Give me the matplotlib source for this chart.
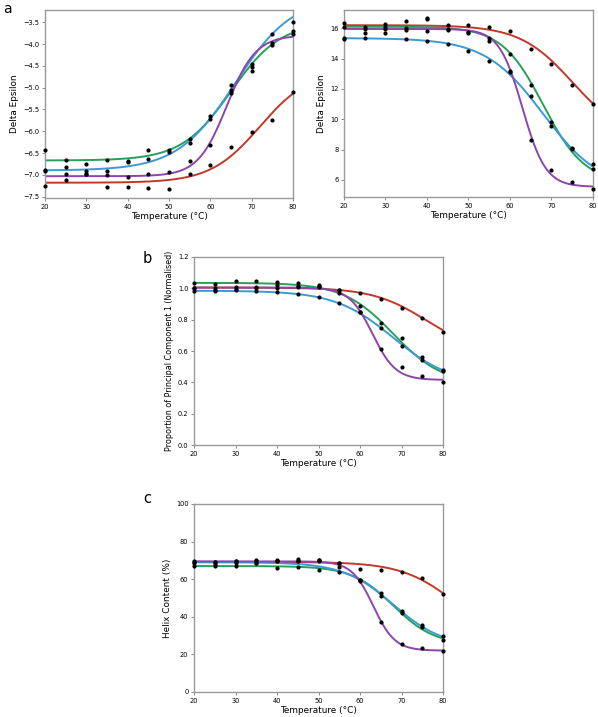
import numpy as np
import matplotlib
matplotlib.use("Agg")
from matplotlib import pyplot as plt

temps = [20, 25, 30, 35, 40, 45, 50, 55, 60, 65, 70, 75, 80]
series = ["red", "green", "blue", "purple"]
colors = {"red": "#c0392b", "green": "#27a05a", "blue": "#3a9ad8", "purple": "#8e44ad"}

a1_pts = {
    "red":    [-7.25, -7.12, -6.99, -7.27, -7.27, -7.29, -7.32, -6.97, -6.77, -6.37, -6.02, -5.74, -5.11],
    "green":  [-6.43, -6.67, -6.74, -6.66, -6.68, -6.43, -6.44, -6.28, -5.72, -5.05, -4.52, -3.98, -3.69],
    "blue":   [-6.88, -6.83, -6.90, -6.90, -6.70, -6.64, -6.47, -6.18, -5.66, -4.95, -4.46, -3.78, -3.50],
    "purple": [-6.92, -6.97, -6.98, -7.01, -7.05, -6.99, -6.94, -6.68, -6.32, -5.13, -4.61, -4.02, -3.78],
}
a2_pts = {
    "red":    [16.33, 16.11, 16.26, 16.50, 16.66, 16.22, 16.22, 16.07, 15.80, 14.64, 13.65, 12.26, 10.99],
    "green":  [16.11, 15.96, 16.11, 16.00, 16.59, 15.93, 15.78, 15.19, 14.29, 12.29, 9.85, 8.04, 6.70],
    "blue":   [15.30, 15.34, 15.69, 15.30, 15.16, 14.99, 14.51, 13.85, 13.10, 11.54, 9.56, 8.11, 7.08],
    "purple": [15.38, 15.69, 15.98, 15.89, 15.80, 15.89, 15.71, 15.34, 13.19, 8.66, 6.68, 5.85, 5.41],
}
b_pts = {
    "red":    [1.000, 1.000, 1.006, 1.009, 1.002, 1.013, 1.009, 0.991, 0.970, 0.932, 0.876, 0.810, 0.723],
    "green":  [1.035, 1.028, 1.045, 1.049, 1.038, 1.034, 1.019, 0.970, 0.885, 0.778, 0.682, 0.563, 0.480],
    "blue":   [0.985, 0.981, 0.991, 0.983, 0.974, 0.964, 0.945, 0.906, 0.850, 0.744, 0.635, 0.544, 0.475],
    "purple": [1.005, 0.991, 0.995, 1.003, 1.019, 1.010, 1.012, 0.990, 0.851, 0.612, 0.499, 0.439, 0.403],
}
c_pts = {
    "red":    [69.5, 69.0, 69.9, 70.0, 70.4, 70.6, 70.0, 68.6, 65.4, 65.1, 63.7, 60.5, 52.3],
    "green":  [67.2, 66.8, 67.2, 68.6, 66.0, 66.3, 65.1, 63.7, 59.8, 52.5, 42.9, 35.5, 29.6],
    "blue":   [68.5, 67.9, 68.6, 68.6, 69.5, 69.7, 70.0, 66.5, 59.2, 51.2, 42.0, 34.6, 27.8],
    "purple": [69.1, 69.0, 69.5, 69.5, 69.5, 69.7, 69.5, 68.6, 59.8, 37.2, 25.5, 23.4, 21.6],
}

# two-state fit parameters: (low-T value, high-T value, Tm, width)
a1_fit = {
    "red":    (-7.18, -4.60, 72.0, 6.0),
    "green":  (-6.67, -3.50, 65.0, 6.0),
    "blue":   (-6.90, -2.90, 66.0, 7.0),
    "purple": (-7.03, -3.80, 64.0, 3.5),
}
a2_fit = {
    "red":    (16.20, 8.70, 75.0, 6.3),
    "green":  (16.10, 5.80, 68.0, 5.0),
    "blue":   (15.35, 5.35, 68.0, 7.0),
    "purple": (15.95, 5.55, 63.0, 2.8),
}
b_fit = {
    "red":    (1.005, 0.585, 76.0, 6.5),
    "green":  (1.035, 0.385, 68.0, 6.0),
    "blue":   (0.985, 0.385, 68.0, 7.0),
    "purple": (1.005, 0.415, 63.0, 2.8),
}
c_fit = {
    "red":    (69.2, 26.2, 83.0, 6.5),
    "green":  (67.0, 25.0, 68.0, 5.0),
    "blue":   (69.0, 24.0, 68.0, 6.0),
    "purple": (69.5, 22.0, 63.2, 2.6),
}


def two_state(t, lo, hi, tm, w):
    return lo + (hi - lo) / (1.0 + np.exp((tm - t) / w))


W, H = 598, 717
fig = plt.figure(figsize=(W / 100, H / 100), dpi=100)


def box(l, t, r, b):
    return [l / W, 1 - b / H, (r - l) / W, (b - t) / H]


panels = [
    (box(45, 10, 293, 198), a1_pts, a1_fit, (-7.53, -3.22), "Delta Epsilon", None),
    (box(344, 10, 593, 197), a2_pts, a2_fit, (4.88, 17.2), "Delta Epsilon", None),
    (box(194, 257, 443, 445), b_pts, b_fit, (0, 1.2), "Proportion of Principal Component 1 (Normalised)", 5.8),
    (box(194, 504, 443, 692), c_pts, c_fit, (0, 100), "Helix Content (%)", None),
]

tgrid = np.linspace(20, 80, 400)
for rect, pts, fit, ylim, ylabel, ylfs in panels:
    ax = fig.add_axes(rect)
    for s in series:
        ax.plot(tgrid, two_state(tgrid, *fit[s]), color=colors[s], lw=1.4, zorder=2)
    for s in series:
        ax.plot(temps, pts[s], "o", color="black", ms=2.0, zorder=3, clip_on=False)
    ax.set_xlim(20, 80)
    ax.set_ylim(ylim)
    ax.set_xticks(range(20, 81, 10))
    ax.set_xlabel("Temperature (\u00b0C)", fontsize=6.4, labelpad=2)
    ax.set_ylabel(ylabel, fontsize=ylfs or 6.4, labelpad=3)
    ax.tick_params(labelsize=4.8, length=2.5, width=0.6, color="#777777", pad=1.5)
    for sp in ax.spines.values():
        sp.set_color("#999999")
        sp.set_linewidth(1.0)

fig.text(3 / W, 1 - 13 / H, "a", fontsize=10, va="baseline")
fig.text(143 / W, 1 - 263 / H, "b", fontsize=10.5, va="baseline")
fig.text(143 / W, 1 - 503 / H, "c", fontsize=10.5, va="baseline")

fig.savefig("out.png", dpi=100)
